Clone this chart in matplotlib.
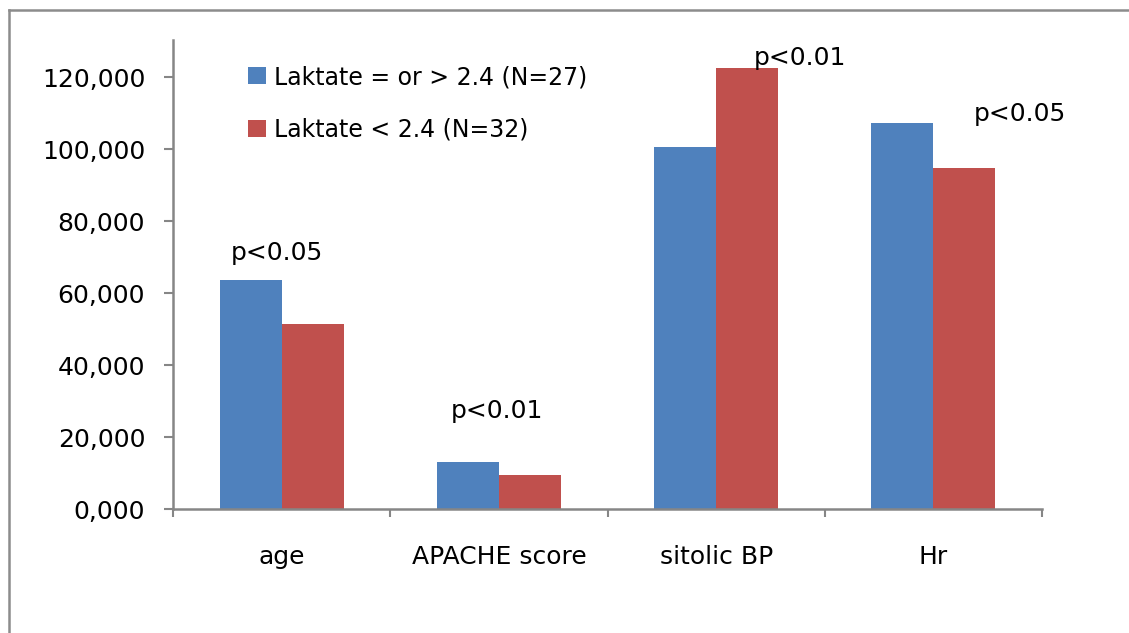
import matplotlib
matplotlib.use("Agg")
import matplotlib.pyplot as plt
from matplotlib.lines import Line2D
from matplotlib.ticker import FuncFormatter, FixedLocator
import numpy as np

# values
categories = ["age", "APACHE score", "sitolic BP", "Hr"]
high_lactate = [63.6, 13.1, 100.7, 107.3]
low_lactate = [51.4, 9.4, 122.6, 94.6]
series_names = ["Laktate = or > 2.4 (N=27)", "Laktate < 2.4 (N=32)"]
p_labels = ["p<0.05", "p<0.01", "p<0.01", "p<0.05"]

BLUE = "#4F81BD"
RED = "#C0504D"
GRAY = "#868686"

plt.rcParams["font.family"] = ["DejaVu Sans"]

fig = plt.figure(figsize=(11.29, 6.33), dpi=100)
ax = fig.add_axes([173 / 1129, 1 - 509 / 633, (1042 - 173) / 1129, (509 - 40) / 633])

x = np.arange(len(categories)) + 0.5
w = 1 / 3.5
ax.bar(x - w / 2, high_lactate, width=w, color=BLUE, label=series_names[0])
ax.bar(x + w / 2, low_lactate, width=w, color=RED, label=series_names[1])

ax.set_xlim(0, len(categories))
ax.set_ylim(0, 130.3)

# y axis
ax.yaxis.set_major_locator(FixedLocator(np.arange(0, 121, 20)))
ax.yaxis.set_major_formatter(FuncFormatter(lambda v, _: f"{v:.3f}".replace(".", ",")))
ax.tick_params(axis="y", direction="out", length=6.5, width=1.5, color=GRAY,
               labelsize=18, pad=13.5)

# x axis: boundary ticks, category labels centred
ax.xaxis.set_major_locator(FixedLocator(np.arange(0, len(categories) + 1)))
ax.xaxis.set_major_formatter(FuncFormatter(lambda v, _: ""))
ax.xaxis.set_minor_locator(FixedLocator(x))
ax.set_xticklabels(categories, minor=True)
ax.tick_params(axis="x", which="major", direction="out", length=6, width=1.5, color=GRAY)
ax.tick_params(axis="x", which="minor", length=0, labelsize=18, pad=26)

for side in ["top", "right"]:
    ax.spines[side].set_visible(False)
for side in ["left", "bottom"]:
    ax.spines[side].set_color(GRAY)
    ax.spines[side].set_linewidth(1.8)

# significance labels
p_pos = [(-0.02, 69.2), (-0.01, 25.3), (0.385, 123.4), (0.40, 107.8)]
for xi, lab, (dx, yv) in zip(x, p_labels, p_pos):
    ax.text(xi + dx, yv, lab, ha="center", va="baseline", fontsize=18)

ax.legend(loc="upper left", bbox_to_anchor=(248 / 1129, 1 - 65 / 633),
          bbox_transform=fig.transFigure, frameon=False, fontsize=17,
          handlelength=0.75, handleheight=0.75, handletextpad=0.35,
          labelspacing=1.22, borderpad=0, borderaxespad=0)

# outer chart frame (top and left edges visible)
fig.add_artist(Line2D([9 / 1129, 1], [1 - 10 / 633, 1 - 10 / 633],
                      transform=fig.transFigure, color="#8C8C8C", lw=1.8))
fig.add_artist(Line2D([9 / 1129, 9 / 1129], [0, 1 - 10 / 633],
                      transform=fig.transFigure, color="#8C8C8C", lw=1.8))

fig.savefig("out.png", dpi=100)
